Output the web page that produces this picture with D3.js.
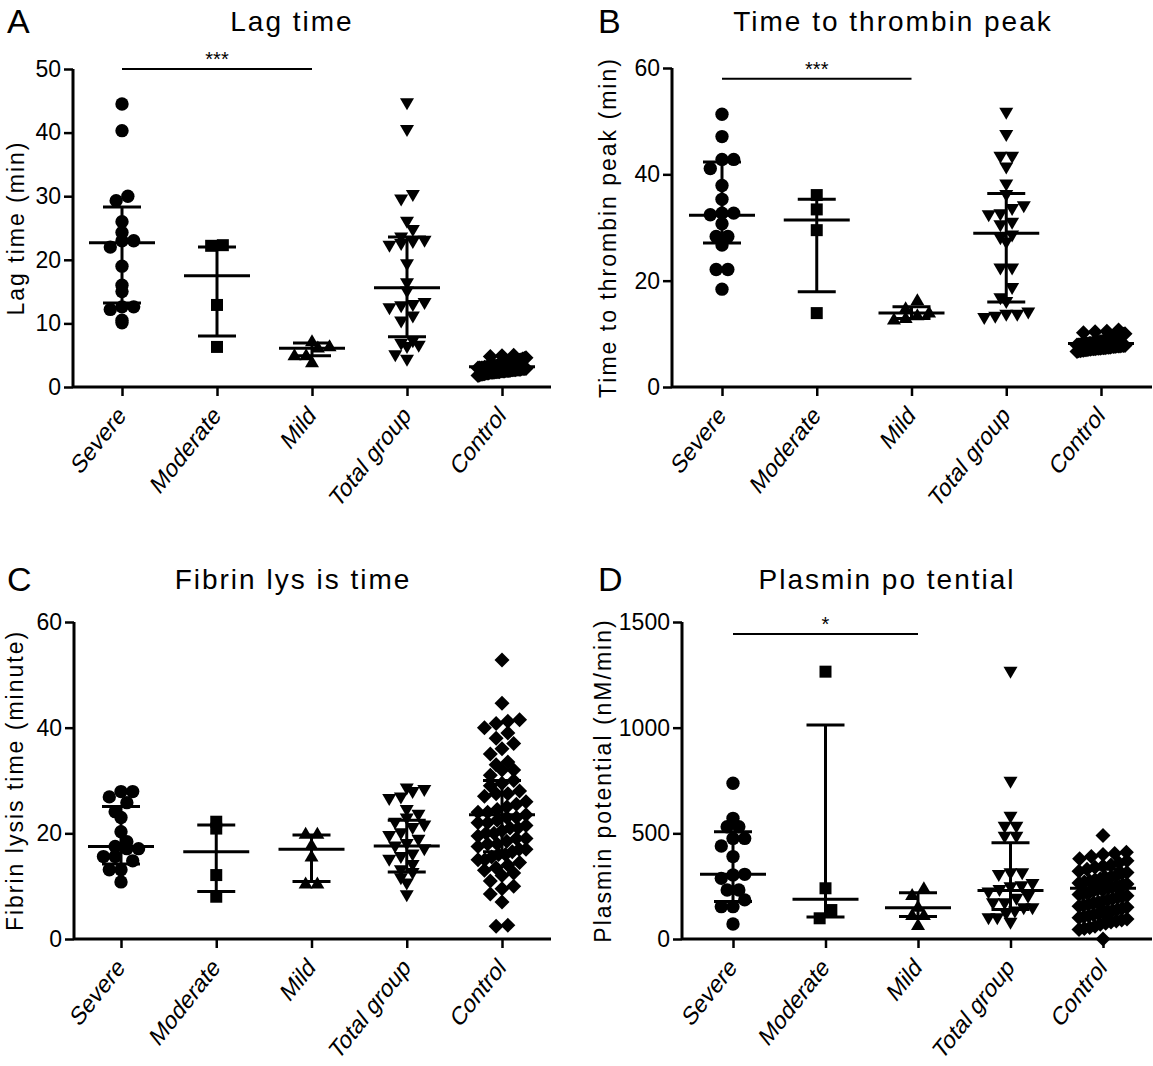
<!DOCTYPE html>
<html>
<head>
<meta charset="utf-8">
<script src="https://cdn.jsdelivr.net/npm/d3@7"></script>
<style>
  body { margin: 0; background: #fff; }
  svg { display: block; font-family: "Liberation Sans", Arial, sans-serif; }
</style>
</head>
<body>
<div id="chart"></div>
<script>
const categories = ["Severe", "Moderate", "Mild", "Total group", "Control"];

// A - lag time (min)
const lagSevere = [44.5, 40.3, 30.0, 29.3, 26.0, 24.3, 23.0, 23.0, 22.0, 19.0, 16.0, 15.0, 12.6, 12.6, 12.2, 10.1, 10.5];
const lagModerate = [22.2, 22.3, 12.9, 6.3];
const lagMild = [7.2, 6.4, 6.2, 5.0, 5.0, 3.9];
const lagTotal = [44.6, 40.4, 30.2, 29.5, 26.0, 24.7, 23.5, 23.0, 22.8, 22.5, 22.2, 19.3, 16.3, 15.0, 13.2, 12.9,
  12.7, 12.4, 11.1, 10.3, 7.2, 6.8, 6.5, 6.3, 5.0, 4.3];
const lagControl = [5.0, 4.9, 4.8, 4.6, 4.5, 4.4, 4.3, 4.2, 4.1, 4.0, 4.0, 3.9, 3.8, 3.8, 3.7, 3.6, 3.6, 3.5, 3.5,
  3.4, 3.4, 3.3, 3.3, 3.2, 3.2, 3.2, 3.1, 3.1, 3.1, 3.0, 3.0, 3.0, 3.0, 2.9, 2.9, 2.9, 2.9, 2.8, 2.8, 2.8, 2.8,
  2.7, 2.7, 2.7, 2.7, 2.6, 2.6, 2.6, 2.6, 2.5, 2.5, 2.5, 2.5, 2.4, 2.4, 2.4, 2.4, 2.3, 2.3, 2.3, 2.3, 2.2, 2.2,
  2.2, 2.1, 2.1, 2.0, 2.0, 1.9, 1.8];
const lagMedian = [22.7, 17.5, 6.1, 15.6, 3.2];
const lagLow = [13.2, 8.0, 4.9, 7.9, 2.5];
const lagHigh = [28.3, 22.0, 6.9, 23.6, 3.8];
const lagTicks = [0, 10, 20, 30, 40, 50];
const lagSig = ["***", "Severe", "Mild", 50];

// B - time to thrombin peak (min)
const ttpSevere = [51.3, 47.1, 42.8, 42.8, 41.1, 37.9, 35.3, 32.7, 32.7, 32.4, 30.7, 28.3, 28.3, 26.7, 22.1, 22.1, 18.4];
const ttpModerate = [36.1, 33.4, 29.5, 13.9];
const ttpMild = [16.3, 14.8, 14.0, 13.5, 13.0, 12.7];
const ttpTotal = [51.6, 47.4, 43.3, 43.3, 41.3, 38.1, 36.1, 34.0, 33.5, 32.5, 32.3, 30.9, 30.4, 28.5, 28.0, 27.2,
  22.3, 22.3, 18.6, 16.7, 16.0, 14.0, 13.6, 13.2, 13.6, 13.0];
const ttpControl = [10.7, 10.5, 10.4, 10.2, 10.0, 9.9, 9.8, 9.6, 9.5, 9.4, 9.3, 9.2, 9.1, 9.0, 9.0, 8.9, 8.8, 8.8,
  8.7, 8.6, 8.6, 8.5, 8.5, 8.4, 8.4, 8.3, 8.3, 8.3, 8.2, 8.2, 8.2, 8.1, 8.1, 8.1, 8.0, 8.0, 8.0, 7.9, 7.9, 7.9,
  7.8, 7.8, 7.8, 7.7, 7.7, 7.7, 7.6, 7.6, 7.6, 7.5, 7.5, 7.5, 7.4, 7.4, 7.4, 7.3, 7.3, 7.3, 7.2, 7.2, 7.2, 7.1,
  7.1, 7.0, 7.0, 6.9, 6.9, 6.8, 6.8, 6.7];
const ttpMedian = [32.3, 31.4, 13.9, 28.9, 8.2];
const ttpLow = [27.1, 17.9, 12.9, 16.0, 7.5];
const ttpHigh = [42.3, 35.3, 15.1, 36.4, 9.0];
const ttpTicks = [0, 20, 40, 60];
const ttpSig = ["***", "Severe", "Mild", 58];

// C - fibrin lysis time (minute)
const fibSevere = [27.9, 27.9, 26.9, 25.8, 24.1, 23.0, 20.3, 18.4, 17.5, 17.1, 17.1, 15.6, 15.6, 14.8, 13.1, 13.1, 10.8];
const fibModerate = [22.2, 20.9, 12.1, 8.0];
const fibMild = [19.9, 19.9, 17.8, 15.6, 10.5, 10.5];
const fibTotal = [28.5, 28.2, 27.8, 26.8, 26.5, 24.4, 23.5, 22.8, 22.0, 21.5, 21.0, 20.0, 19.5, 18.8, 18.0, 17.5,
  17.0, 16.0, 15.5, 15.0, 14.0, 13.0, 12.5, 11.5, 10.5, 8.3];
const fibControl = [52.8, 44.6, 41.5, 41.2, 40.8, 40.0, 39.0, 38.0, 37.0, 36.0, 35.0, 33.5, 33.0, 32.0, 32.0, 31.0,
  30.0, 29.5, 29.0, 28.0, 27.5, 27.5, 27.0, 26.0, 25.5, 25.0, 24.5, 24.0, 24.0, 23.5, 23.0, 23.0, 22.5, 22.0, 22.0,
  21.5, 21.0, 21.0, 20.5, 20.0, 20.0, 19.5, 19.0, 19.0, 18.5, 18.0, 18.0, 17.5, 17.0, 17.0, 16.5, 16.0, 16.0, 15.5,
  15.0, 15.0, 14.5, 14.0, 13.5, 13.0, 12.5, 12.0, 11.0, 10.0, 9.5, 8.5, 7.0, 2.6, 2.4];
const fibMedian = [17.5, 16.5, 17.0, 17.6, 23.5];
const fibLow = [14.2, 9.0, 10.9, 12.7, 16.5];
const fibHigh = [25.1, 21.6, 19.7, 22.5, 30.0];
const fibTicks = [0, 20, 40, 60];

// D - plasmin potential (nM/min)
const ppSevere = [737, 571, 531, 531, 476, 476, 440, 390, 306, 303, 287, 232, 232, 185, 153, 153, 71];
const ppModerate = [1265, 240, 137, 98];
const ppMild = [240, 208, 153, 114, 114, 66];
const ppTotal = [1265, 744, 579, 531, 531, 484, 484, 311, 311, 303, 260, 250, 245, 232, 220, 200, 190, 169, 169,
  146, 146, 130, 120, 98, 98, 77];
const ppControl = [490, 410, 405, 400, 390, 380, 370, 360, 350, 345, 340, 330, 320, 315, 310, 300, 295, 290, 285,
  280, 275, 270, 265, 260, 255, 250, 248, 245, 242, 240, 238, 235, 230, 225, 220, 215, 210, 205, 200, 195, 190,
  185, 180, 175, 170, 165, 160, 155, 150, 145, 140, 135, 130, 125, 120, 115, 110, 105, 100, 95, 90, 85, 80, 75,
  70, 60, 55, 50, 45, 0];
const ppMedian = [306, 188, 148, 229, 240];
const ppLow = [177, 104, 106, 140, 150];
const ppHigh = [508, 1013, 219, 456, 330];
const ppTicks = [0, 500, 1000, 1500];
const ppSig = ["*", "Severe", "Mild", 1443];

const symbols = ["circle", "square", "triUp", "triDown", "diamond"];

const svg = d3.select("#chart").append("svg")
    .attr("width", 1153)
    .attr("height", 1066);

function markerPath(kind) {
    if (kind === "circle") return d3.symbol(d3.symbolCircle, 140)();
    if (kind === "square") return d3.symbol(d3.symbolSquare, 144)();
    if (kind === "diamond") return "M0,-7.5L7.5,0L0,7.5L-7.5,0Z";
    if (kind === "triUp") return "M0,-7L7,5L-7,5Z";
    return "M0,7L7,-5L-7,-5Z";
}

// column scatter: points falling in the same row get spread around the category centre
function spread(values, y, cx, size, maxHalf) {
    const pts = values.map(v => ({v, py: y(v)}));
    const rows = d3.group(pts, d => Math.round(d.py / (size * 0.9)));
    for (const row of rows.values()) {
        row.sort((a, b) => a.v - b.v);
        const n = row.length;
        const step = n > 1 ? Math.min(size * 0.9, 2 * maxHalf / (n - 1)) : 0;
        row.forEach((d, i) => d.px = cx + (i - (n - 1) / 2) * step);
    }
    return pts;
}

function panel(cfg) {
    const g = svg.append("g");
    const x = d3.scalePoint().domain(categories).range(cfg.xr);
    const y = d3.scaleLinear().domain(cfg.yd).range(cfg.yr);

    g.append("text")
        .attr("x", cfg.letter[0]).attr("y", cfg.letter[1])
        .attr("font-size", 34)
        .text(cfg.id);

    g.append("text")
        .attr("x", cfg.title[0]).attr("y", cfg.title[1])
        .attr("text-anchor", "middle")
        .attr("font-size", 28)
        .attr("letter-spacing", 2)
        .text(cfg.name);

    g.append("text")
        .attr("transform", `translate(${cfg.ylab},${(cfg.yr[0] + cfg.yr[1]) / 2}) rotate(-90)`)
        .attr("text-anchor", "middle")
        .attr("dy", "0.35em")
        .attr("font-size", 23)
        .attr("letter-spacing", 2)
        .text(cfg.ytitle);

    const yAxis = g.append("g")
        .attr("transform", `translate(${cfg.ax},0)`)
        .call(d3.axisLeft(y).tickValues(cfg.ticks).tickSize(9).tickPadding(3).tickFormat(d3.format("d")));
    yAxis.select(".domain").attr("stroke-width", 3).attr("d", `M0,${cfg.yr[0]}V${cfg.yr[1]}`);
    yAxis.selectAll(".tick line").attr("stroke-width", 2.5);
    yAxis.selectAll(".tick text").attr("font-size", 23).attr("fill", "#000");

    const xAxis = g.append("g")
        .attr("transform", `translate(0,${cfg.yr[0]})`)
        .call(d3.axisBottom(x).tickSize(9).tickFormat(""));
    xAxis.select(".domain").attr("stroke-width", 3).attr("d", `M${cfg.ax},0H${cfg.xend}`);
    xAxis.selectAll(".tick line").attr("stroke-width", 2.5);

    // category names: rotated, and stretched vertically as in the source figure
    g.append("g")
        .selectAll("text")
        .data(categories)
        .join("text")
        .attr("transform", d => `translate(${x(d) + 5},${cfg.yr[0] + 30}) scale(1,1.25) rotate(-45)`)
        .attr("text-anchor", "end")
        .attr("font-size", 21)
        .text(d => d);

    cfg.groups.forEach((vals, i) => {
        const cx = x(categories[i]);
        const maxHalf = i === 4 ? 24 : 22;
        const pts = spread(vals, y, cx, 13, maxHalf);
        g.append("g")
            .selectAll("path")
            .data(pts)
            .join("path")
            .attr("transform", d => `translate(${d.px},${d.py})`)
            .attr("d", markerPath(symbols[i]))
            .attr("fill", "#000");

        const bar = g.append("g").attr("stroke", "#000").attr("stroke-width", 3);
        bar.append("line")
            .attr("x1", cx).attr("x2", cx)
            .attr("y1", y(cfg.low[i])).attr("y2", y(cfg.high[i]));
        [cfg.low[i], cfg.high[i]].forEach(v => {
            bar.append("line")
                .attr("x1", cx - 19).attr("x2", cx + 19)
                .attr("y1", y(v)).attr("y2", y(v));
        });
        bar.append("line")
            .attr("x1", cx - 33).attr("x2", cx + 33)
            .attr("y1", y(cfg.median[i])).attr("y2", y(cfg.median[i]));
    });

    if (cfg.sig) {
        const [mark, from, to, level] = cfg.sig;
        g.append("line")
            .attr("x1", x(from)).attr("x2", x(to))
            .attr("y1", y(level)).attr("y2", y(level))
            .attr("stroke", "#000").attr("stroke-width", 2);
        g.append("text")
            .attr("x", (x(from) + x(to)) / 2)
            .attr("y", y(level) - 3)
            .attr("text-anchor", "middle")
            .attr("font-size", 20)
            .text(mark);
    }
}

panel({
    id: "A", name: "Lag time", ytitle: "Lag time (min)",
    letter: [7, 33], title: [292, 31], ylab: 16,
    ax: 73, xend: 551, xr: [122, 502], yd: [0, 50], yr: [387, 69], ticks: lagTicks,
    groups: [lagSevere, lagModerate, lagMild, lagTotal, lagControl],
    median: lagMedian, low: lagLow, high: lagHigh, sig: lagSig
});

panel({
    id: "B", name: "Time to thrombin peak", ytitle: "Time to thrombin peak (min)",
    letter: [598, 33], title: [893, 31], ylab: 608,
    ax: 672, xend: 1152, xr: [722, 1101], yd: [0, 60], yr: [387, 68], ticks: ttpTicks,
    groups: [ttpSevere, ttpModerate, ttpMild, ttpTotal, ttpControl],
    median: ttpMedian, low: ttpLow, high: ttpHigh, sig: ttpSig
});

panel({
    id: "C", name: "Fibrin lys is time", ytitle: "Fibrin lysis time (minute)",
    letter: [7, 591], title: [293, 589], ylab: 15,
    ax: 74, xend: 551, xr: [121, 502], yd: [0, 60], yr: [939, 622], ticks: fibTicks,
    groups: [fibSevere, fibModerate, fibMild, fibTotal, fibControl],
    median: fibMedian, low: fibLow, high: fibHigh, sig: null
});

panel({
    id: "D", name: "Plasmin po tential", ytitle: "Plasmin potential (nM/min)",
    letter: [598, 591], title: [887, 589], ylab: 603,
    ax: 682, xend: 1152, xr: [733, 1103], yd: [0, 1500], yr: [939, 622], ticks: ppTicks,
    groups: [ppSevere, ppModerate, ppMild, ppTotal, ppControl],
    median: ppMedian, low: ppLow, high: ppHigh, sig: ppSig
});
</script>
</body>
</html>
